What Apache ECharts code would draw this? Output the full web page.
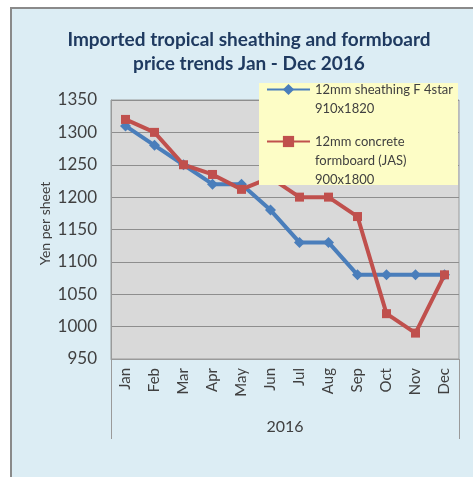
<!DOCTYPE html>
<html>
<head>
<meta charset="utf-8">
<script src="https://cdn.jsdelivr.net/npm/echarts@6/dist/echarts.min.js"></script>
<style>
  html, body { margin: 0; padding: 0; background: #fff; }
  #wrap { position: relative; width: 473px; height: 477px; overflow: hidden; }
  #chart {
    position: absolute; left: 10px; top: 7px;
    width: 463px; height: 470px;
    border-left: 2px solid #8a8a8a; border-top: 2px solid #8a8a8a;
    background: #dcedf4;
  }
</style>
</head>
<body>
<div id="wrap"><div id="chart"></div></div>
<script>
  // months on the category axis
  const months = ["Jan", "Feb", "Mar", "Apr", "May", "Jun", "Jul", "Aug", "Sep", "Oct", "Nov", "Dec"];
  const yearLabel = ["2016"];

  // yen per sheet
  const sheathing = [1310, 1280, 1250, 1220, 1220, 1180, 1130, 1130, 1080, 1080, 1080, 1080];
  const formboard = [1320, 1300, 1250, 1235, 1212, 1230, 1200, 1200, 1170, 1020, 990, 1080];

  const sheathingName = "12mm sheathing F 4star\n910x1820";
  const formboardName = "12mm concrete\nformboard (JAS)\n900x1800";

  // legend text is centred on its icon, so pad blank lines above to put the icon on line one
  const legendLabel = (name) => {
    const lines = name.split("\n");
    const pad = "{sp| }\n".repeat(lines.length - 1);
    return pad + lines.map(l => "{t|" + l + "}").join("\n");
  };

  const chart = echarts.init(document.getElementById("chart"));

  chart.setOption({
    animation: false,
    textStyle: { fontFamily: "Lato" },
    title: {
      text: "Imported tropical sheathing and formboard\nprice trends Jan - Dec 2016",
      left: 232,
      top: 14,
      textAlign: "center",
      textStyle: { color: "#1f3a60", fontSize: 19, fontWeight: "bold", lineHeight: 24, fontFamily: "Lato" }
    },
    graphic: [{
      type: "rect",
      zlevel: 1,
      z: 0,
      shape: { x: 247, y: 74, width: 199, height: 102 },
      style: { fill: "#fdfdc6" }
    }],
    legend: {
      orient: "vertical",
      left: 254,
      top: 52,
      padding: 0,
      itemGap: -24,
      itemWidth: 43,
      itemHeight: 14,
      zlevel: 1,
      z: 5,
      formatter: legendLabel,
      textStyle: {
        color: "#404040", fontSize: 13, lineHeight: 19, fontFamily: "Lato",
        rich: {
          sp: { lineHeight: 19, fontSize: 13 },
          t: { lineHeight: 19, fontSize: 13, color: "#404040", fontFamily: "Lato" }
        }
      },
      data: [sheathingName, formboardName]
    },
    grid: {
      left: 99, right: 16, top: 91, bottom: 120,
      show: true,
      backgroundColor: "#d9d9d9",
      borderColor: "#9a9a9a",
      borderWidth: 1
    },
    xAxis: [{
      type: "category",
      data: months,
      boundaryGap: true,
      axisLine: { show: true, lineStyle: { color: "#9a9a9a" } },
      axisTick: { show: false },
      axisLabel: { rotate: 90, margin: 9, color: "#404040", fontSize: 15, interval: 0 }
    }, {
      type: "category",
      data: yearLabel,
      position: "bottom",
      boundaryGap: true,
      axisLine: { show: false },
      axisTick: { show: true, length: 80, lineStyle: { color: "#9a9a9a" } },
      axisLabel: { margin: 60, color: "#404040", fontSize: 16 }
    }],
    yAxis: {
      type: "value",
      min: 950,
      max: 1350,
      interval: 50,
      name: "Yen per sheet",
      nameLocation: "middle",
      nameGap: 59,
      nameMoveOverlap: false,
      nameTextStyle: { color: "#404040", fontSize: 14, padding: [0, 0, 0, 12] },
      axisLine: { show: true, lineStyle: { color: "#9a9a9a" } },
      axisTick: { show: false },
      axisLabel: { margin: 14, color: "#404040", fontSize: 17, formatter: (v) => String(v) },
      splitLine: { lineStyle: { color: "#8e8e8e", width: 1 } }
    },
    series: [{
      name: sheathingName,
      type: "line",
      data: sheathing,
      color: "#4a7ebb",
      symbol: "diamond",
      symbolSize: 11,
      lineStyle: { width: 4 }
    }, {
      name: formboardName,
      type: "line",
      data: formboard,
      color: "#c0504d",
      symbol: "rect",
      symbolSize: 9,
      lineStyle: { width: 4 }
    }]
  });
</script>
</body>
</html>
